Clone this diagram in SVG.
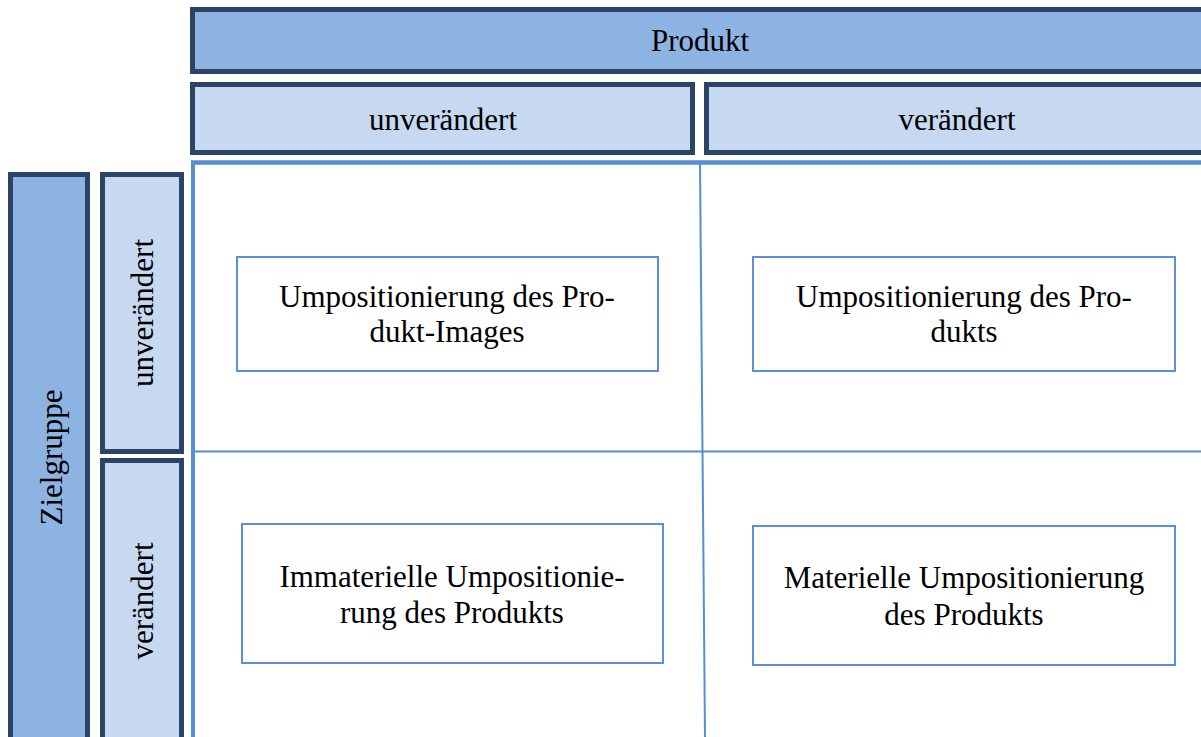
<svg xmlns="http://www.w3.org/2000/svg" width="1201" height="737" viewBox="0 0 1201 737">
  <style>
    .hdr { fill: #8db3e2; stroke: #2b4466; stroke-width: 5; }
    .sub { fill: #c6d9f1; stroke: #2b4466; stroke-width: 5; }
    .cell { fill: #ffffff; stroke: #5b8fd6; stroke-width: 2; }
    .grid { stroke: #558ed5; fill: none; }
    text { font-family: "Liberation Serif", "Times New Roman", serif; font-size: 31px; fill: #000000; text-anchor: middle; }
  </style>
  <rect x="0" y="0" width="1201" height="737" fill="#ffffff"/>

  <g id="connectors">
    <line class="grid" x1="191" y1="162.5" x2="1201" y2="162.5" stroke-width="4.5"/>
    <line class="grid" x1="193" y1="161" x2="193" y2="737" stroke-width="4"/>
    <line class="grid" x1="700" y1="164" x2="705" y2="737" stroke-width="2"/>
    <line class="grid" x1="195" y1="451.5" x2="1201" y2="451.5" stroke-width="2"/>
  </g>

  <g id="produkt">
    <rect class="hdr" x="192.5" y="9.5" width="1020" height="62"/>
    <text x="700" y="51">Produkt</text>
  </g>
  <g id="produkt-unveraendert">
    <rect class="sub" x="192.5" y="84.5" width="500" height="68"/>
    <text x="443" y="130">unverändert</text>
  </g>
  <g id="produkt-veraendert">
    <rect class="sub" x="706.5" y="84.5" width="505" height="68"/>
    <text x="957" y="130">verändert</text>
  </g>

  <g id="zielgruppe">
    <rect class="hdr" x="10.5" y="174.5" width="77" height="570"/>
    <text transform="translate(62,457.5) rotate(-90)">Zielgruppe</text>
  </g>
  <g id="zielgruppe-unveraendert">
    <rect class="sub" x="102.5" y="174.5" width="79" height="277"/>
    <text transform="translate(153,313) rotate(-90)">unverändert</text>
  </g>
  <g id="zielgruppe-veraendert">
    <rect class="sub" x="102.5" y="460.5" width="79" height="285"/>
    <text transform="translate(153,601) rotate(-90)">verändert</text>
  </g>

  <g id="cell-1">
    <rect class="cell" x="237" y="257" width="421" height="114"/>
    <text x="447" y="307">Umpositionierung des Pro-</text>
    <text x="447" y="342">dukt-Images</text>
  </g>
  <g id="cell-2">
    <rect class="cell" x="753" y="257" width="422" height="114"/>
    <text x="964" y="307">Umpositionierung des Pro-</text>
    <text x="964" y="342">dukts</text>
  </g>
  <g id="cell-3">
    <rect class="cell" x="242" y="524" width="421" height="139"/>
    <text x="452" y="587">Immaterielle Umpositionie-</text>
    <text x="452" y="623">rung des Produkts</text>
  </g>
  <g id="cell-4">
    <rect class="cell" x="753" y="526" width="422" height="139"/>
    <text x="964" y="588">Materielle Umpositionierung</text>
    <text x="964" y="625">des Produkts</text>
  </g>
</svg>
